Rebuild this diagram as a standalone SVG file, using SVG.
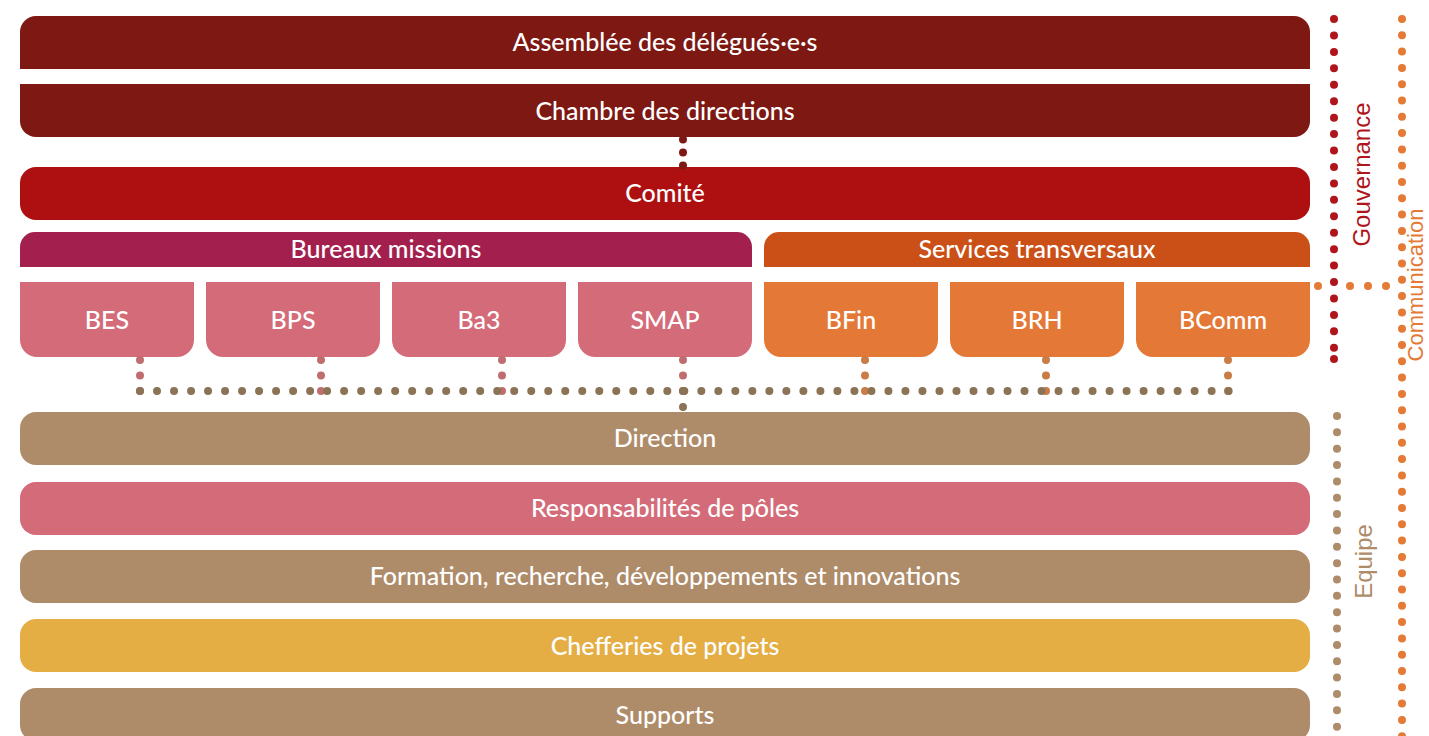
<svg xmlns="http://www.w3.org/2000/svg" width="1429" height="736" viewBox="0 0 1429 736">
<style>
.lbl{font-family:Lato,"Noto Sans","Liberation Sans",sans-serif;font-size:25px;font-weight:500;fill:#ffffff;text-anchor:middle}
.side{font-family:"Liberation Sans",Arial,sans-serif;font-size:24px;text-anchor:middle}
.dot{fill:none;stroke-linecap:round;stroke-width:8}
</style>
<rect width="1429" height="736" fill="#ffffff"/>
<g id="assemblee">
  <path d="M20 69V32a16 16 0 0 1 16-16h1258a16 16 0 0 1 16 16v37z" fill="#7d1812"/>
  <text class="lbl" x="665" y="51">Assemblée des délégués·e·s</text>
</g>
<g id="chambre">
  <path d="M20 84h1290v37a16 16 0 0 1-16 16H36a16 16 0 0 1-16-16z" fill="#7d1812"/>
  <text class="lbl" x="665" y="119.5">Chambre des directions</text>
</g>
<g id="comite">
  <rect x="20" y="167" width="1290" height="53" rx="16" fill="#ae1012"/>
  <text class="lbl" x="665" y="202">Comité</text>
</g>
<g id="bureaux-missions">
  <path d="M20 267v-20a15 15 0 0 1 15-15h702a15 15 0 0 1 15 15v20z" fill="#a3204e"/>
  <text class="lbl" x="386" y="258">Bureaux missions</text>
</g>
<g id="services-transversaux">
  <path d="M764 267v-20a15 15 0 0 1 15-15h516a15 15 0 0 1 15 15v20z" fill="#cb5017"/>
  <text class="lbl" x="1037" y="258">Services transversaux</text>
</g>
<g id="bes">
  <path d="M20 282h174v58a17 17 0 0 1-17 17H37a17 17 0 0 1-17-17z" fill="#d46b79"/>
  <text class="lbl" x="107" y="328.5">BES</text>
</g>
<g id="bps">
  <path d="M206 282h174v58a17 17 0 0 1-17 17H223a17 17 0 0 1-17-17z" fill="#d46b79"/>
  <text class="lbl" x="293" y="328.5">BPS</text>
</g>
<g id="ba3">
  <path d="M392 282h174v58a17 17 0 0 1-17 17H409a17 17 0 0 1-17-17z" fill="#d46b79"/>
  <text class="lbl" x="479" y="328.5">Ba3</text>
</g>
<g id="smap">
  <path d="M578 282h174v58a17 17 0 0 1-17 17H595a17 17 0 0 1-17-17z" fill="#d46b79"/>
  <text class="lbl" x="665" y="328.5">SMAP</text>
</g>
<g id="bfin">
  <path d="M764 282h174v58a17 17 0 0 1-17 17H781a17 17 0 0 1-17-17z" fill="#e47836"/>
  <text class="lbl" x="851" y="328.5">BFin</text>
</g>
<g id="brh">
  <path d="M950 282h174v58a17 17 0 0 1-17 17H967a17 17 0 0 1-17-17z" fill="#e47836"/>
  <text class="lbl" x="1037" y="328.5">BRH</text>
</g>
<g id="bcomm">
  <path d="M1136 282h174v58a17 17 0 0 1-17 17H1153a17 17 0 0 1-17-17z" fill="#e47836"/>
  <text class="lbl" x="1223" y="328.5">BComm</text>
</g>
<g id="direction">
  <rect x="20" y="412" width="1290" height="53" rx="16" fill="#ae8b69"/>
  <text class="lbl" x="665" y="447">Direction</text>
</g>
<g id="responsabilites">
  <rect x="20" y="482" width="1290" height="53" rx="16" fill="#d46b79"/>
  <text class="lbl" x="665" y="517">Responsabilités de pôles</text>
</g>
<g id="formation">
  <rect x="20" y="550" width="1290" height="53" rx="16" fill="#ae8b69"/>
  <text class="lbl" x="665" y="585">Formation, recherche, développements et innovations</text>
</g>
<g id="chefferies">
  <rect x="20" y="619" width="1290" height="53" rx="16" fill="#e5ae45"/>
  <text class="lbl" x="665" y="655">Chefferies de projets</text>
</g>
<g id="supports">
  <rect x="20" y="688" width="1290" height="53" rx="16" fill="#ae8b69"/>
  <text class="lbl" x="665" y="723.5">Supports</text>
</g>
<g id="connectors">
  <path class="dot" d="M683 139.5V165.5" stroke="#7d1812" stroke-dasharray="0 12.99"/>
  <path class="dot" d="M140 360V391M321 360V391M502 360V391M683 360V391" stroke="#c06d70" stroke-dasharray="0 15.49"/>
  <path class="dot" d="M865 360V391M1046 360V391M1228 360V391" stroke="#c97c45" stroke-dasharray="0 15.49"/>
  <path class="dot" d="M140 391H1229" stroke="#8b7356" stroke-dasharray="0 17.01"/>
  <path class="dot" d="M683 391V407" stroke="#8b7356" stroke-dasharray="0 15.99"/>
  <path class="dot" d="M1318 286H1318.01M1350 286H1350.01M1368 286H1368.01M1386 286H1386.01" stroke="#e47a35"/>
  <path class="dot" d="M1402 19V740" stroke="#e47a35" stroke-dasharray="0 16.3"/>
  <path class="dot" d="M1334 19V348M1334 359V359.01" stroke="#b0151c" stroke-dasharray="0 16.44"/>
  <path class="dot" d="M1337 416V740" stroke="#ae8b69" stroke-dasharray="0 16.35"/>
</g>
<g id="gouvernance">
  <text class="side" transform="translate(1370 174.5) rotate(-90)" fill="#b0151c">Gouvernance</text>
</g>
<g id="communication">
  <text class="side" transform="translate(1423 285) rotate(-90)" fill="#e47a35" style="font-size:22px">Communication</text>
</g>
<g id="equipe">
  <text class="side" transform="translate(1372 561.5) rotate(-90)" fill="#ae8b69">Equipe</text>
</g>
</svg>
